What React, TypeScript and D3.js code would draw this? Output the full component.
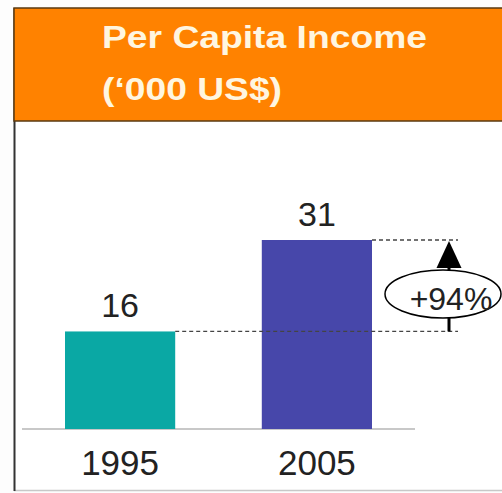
import React, { useEffect, useRef } from "react";
import * as d3 from "d3";

const years = ["1995", "2005"];
const incomes = [16, 31];
const barColors = ["#0aa8a4", "#4747aa"];
const growthLabel = "+94%";
const titleLines = ["Per Capita Income", "(\u2018000 US$)"];

const App: React.FC = () => {
  const ref = useRef<SVGSVGElement>(null);

  useEffect(() => {
    const width = 502,
      height = 493;
    const font = "Liberation Sans, Arial, sans-serif";
    const svg = d3.select(ref.current);
    svg.selectAll("*").remove();

    // background + frame (open on the right)
    svg.append("rect").attr("width", width).attr("height", height).attr("fill", "#fdfdfd");
    svg
      .append("rect")
      .attr("x", 14)
      .attr("y", 8)
      .attr("width", width + 20)
      .attr("height", 482)
      .attr("fill", "#ffffff");
    svg
      .append("line")
      .attr("x1", 14)
      .attr("x2", width + 20)
      .attr("y1", 490.5)
      .attr("y2", 490.5)
      .attr("stroke", "#c8c8c8")
      .attr("stroke-width", 1.5);
    svg
      .append("line")
      .attr("x1", 14.5)
      .attr("x2", 14.5)
      .attr("y1", 8)
      .attr("y2", 491)
      .attr("stroke", "#333")
      .attr("stroke-width", 2);

    // header
    svg
      .append("rect")
      .attr("x", 14)
      .attr("y", 8)
      .attr("width", width + 20)
      .attr("height", 113)
      .attr("fill", "#ff8200")
      .attr("stroke", "#5a3a10")
      .attr("stroke-width", 1.5);

    const titleWidths = [325, 180];
    svg
      .selectAll(".title")
      .data(titleLines)
      .enter()
      .append("text")
      .attr("class", "title")
      .attr("x", 102)
      .attr("y", (_, i) => 48 + i * 52)
      .attr("fill", "#fff6e0")
      .attr("textLength", (_, i) => titleWidths[i])
      .attr("lengthAdjust", "spacingAndGlyphs")
      .style("font-family", font)
      .style("font-weight", "bold")
      .style("font-size", "31px")
      .text((d) => d);

    // scales
    const x = d3.scaleBand().domain(years).range([65, 372]).paddingInner(0.44).paddingOuter(0);
    const y = d3.scaleLinear().domain([0, 31]).range([429, 240]);

    // baseline
    svg
      .append("line")
      .attr("x1", 22)
      .attr("x2", 415)
      .attr("y1", y(0))
      .attr("y2", y(0))
      .attr("stroke", "#c8c8c8")
      .attr("stroke-width", 2);

    svg
      .selectAll(".bar")
      .data(incomes)
      .enter()
      .append("rect")
      .attr("class", "bar")
      .attr("x", (_, i) => x(years[i])!)
      .attr("y", (d) => y(d))
      .attr("width", x.bandwidth())
      .attr("height", (d) => y(0) - y(d))
      .attr("fill", (_, i) => barColors[i]);

    // values
    svg
      .selectAll(".val")
      .data(incomes)
      .enter()
      .append("text")
      .attr("class", "val")
      .attr("x", (_, i) => x(years[i])! + x.bandwidth() / 2)
      .attr("y", (d) => y(d) - 14)
      .attr("text-anchor", "middle")
      .style("font-family", font)
      .style("font-size", "34px")
      .attr("fill", "#222")
      .text((d) => d);

    // year labels
    svg
      .selectAll(".year")
      .data(years)
      .enter()
      .append("text")
      .attr("class", "year")
      .attr("x", (d) => x(d)! + x.bandwidth() / 2)
      .attr("y", 475)
      .attr("text-anchor", "middle")
      .style("font-family", font)
      .style("font-size", "35px")
      .attr("fill", "#222")
      .text((d) => d);

    // dashed guides
    const arrowX = 449;
    incomes.forEach((v, i) => {
      svg
        .append("line")
        .attr("x1", x(years[i])! + x.bandwidth())
        .attr("x2", 458)
        .attr("y1", y(v))
        .attr("y2", y(v))
        .attr("stroke", "#444")
        .attr("stroke-width", 1.3)
        .attr("stroke-dasharray", "4,3");
    });

    // arrow
    const yTop = y(incomes[1]);
    const yBot = y(incomes[0]);
    svg
      .append("line")
      .attr("x1", arrowX)
      .attr("x2", arrowX)
      .attr("y1", yTop + 20)
      .attr("y2", yBot)
      .attr("stroke", "#000")
      .attr("stroke-width", 3);
    svg
      .append("path")
      .attr("d", `M${arrowX},${yTop + 1} L${arrowX - 12.5},${yTop + 28} L${arrowX + 12.5},${yTop + 28} Z`)
      .attr("fill", "#000");

    svg
      .append("ellipse")
      .attr("cx", 443)
      .attr("cy", 294)
      .attr("rx", 58)
      .attr("ry", 24)
      .attr("fill", "#fff")
      .attr("stroke", "#000")
      .attr("stroke-width", 1.5);
    svg
      .append("text")
      .attr("x", 451)
      .attr("y", 310)
      .attr("text-anchor", "middle")
      .style("font-family", font)
      .style("font-size", "32px")
      .attr("fill", "#222")
      .text(growthLabel);
  }, []);

  return (
    <svg
      ref={ref}
      width={502}
      height={493}
      style={{ position: "absolute", left: 0, top: 0, display: "block" }}
    />
  );
};

export default App;
